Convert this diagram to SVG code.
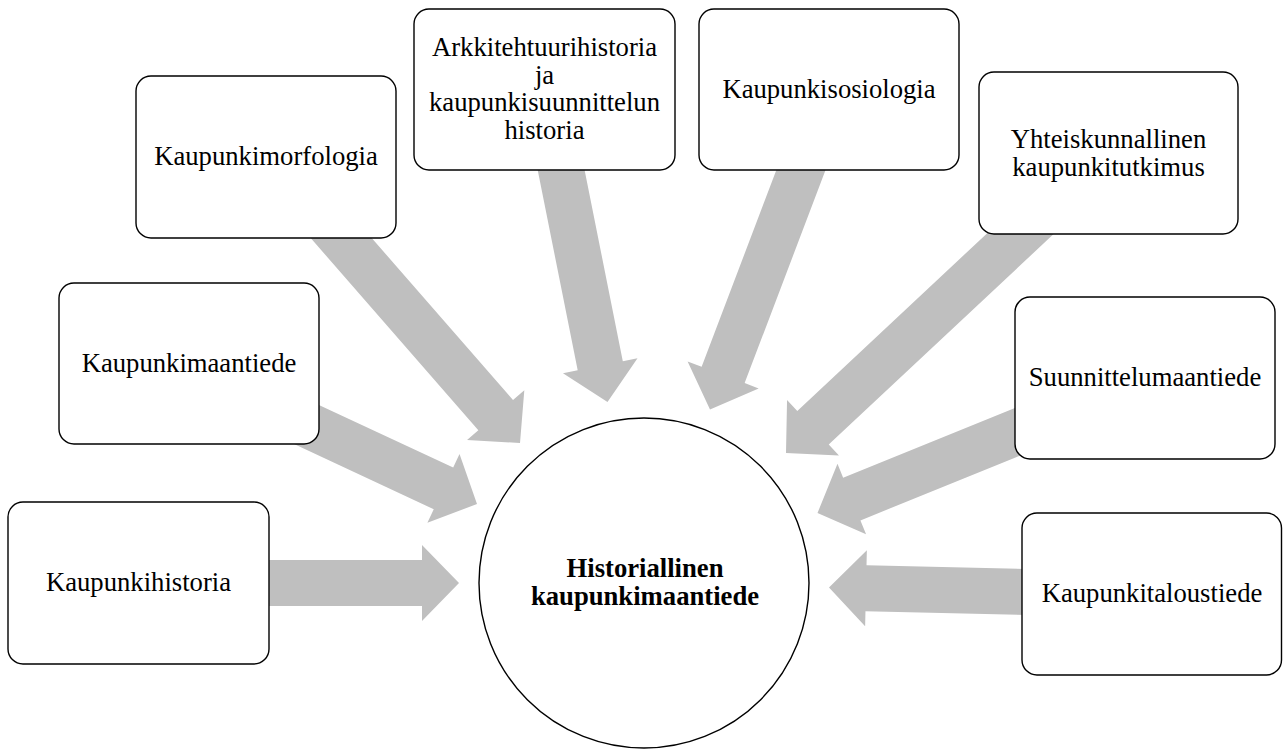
<svg xmlns="http://www.w3.org/2000/svg" width="1283" height="749" viewBox="0 0 1283 749">
<style>
  .arrow { fill: #bfbfbf; stroke: none; }
  .box { fill: #ffffff; stroke: #000000; stroke-width: 1.4; }
  .lbl { font-family: "Liberation Serif", "Times New Roman", serif; font-size: 26.67px; fill: #000000; text-anchor: middle; }
  .center { font-weight: bold; }
</style>
<rect x="0" y="0" width="1283" height="749" fill="#ffffff"/>
<g id="connectors">
  <polygon class="arrow" transform="translate(459,583) rotate(0)" points="-200,-23 -37,-23 -37,-38 0,0 -37,38 -37,23 -200,23"/>
  <polygon class="arrow" transform="translate(477,504) rotate(25)" points="-200,-23 -37,-23 -37,-38 0,0 -37,38 -37,23 -200,23"/>
  <polygon class="arrow" transform="translate(520,443) rotate(48.9)" points="-310,-23 -37,-23 -37,-38 0,0 -37,38 -37,23 -310,23"/>
  <polygon class="arrow" transform="translate(607.5,402) rotate(78.7)" points="-255,-23 -37,-23 -37,-38 0,0 -37,38 -37,23 -255,23"/>
  <polygon class="arrow" transform="translate(710,409.5) rotate(110.8)" points="-275,-23 -37,-23 -37,-38 0,0 -37,38 -37,23 -275,23"/>
  <polygon class="arrow" transform="translate(786,453) rotate(136.9)" points="-360,-23 -37,-23 -37,-38 0,0 -37,38 -37,23 -360,23"/>
  <polygon class="arrow" transform="translate(817.5,513) rotate(157.9)" points="-245,-23 -37,-23 -37,-38 0,0 -37,38 -37,23 -245,23"/>
  <polygon class="arrow" transform="translate(829,587.5) rotate(181.3)" points="-215,-23 -37,-23 -37,-38 0,0 -37,38 -37,23 -215,23"/>
</g>
<g id="center-node">
  <circle class="box" cx="644" cy="583" r="165"/>
  <text class="lbl center" x="645" y="577">Historiallinen</text>
  <text class="lbl center" x="645" y="605">kaupunkimaantiede</text>
</g>
<g id="node-kaupunkihistoria">
  <rect class="box" x="8" y="502" width="261" height="162" rx="15" ry="15"/>
  <text class="lbl" x="138.5" y="591">Kaupunkihistoria</text>
</g>
<g id="node-kaupunkimaantiede">
  <rect class="box" x="59" y="283" width="260" height="161" rx="15" ry="15"/>
  <text class="lbl" x="189" y="372">Kaupunkimaantiede</text>
</g>
<g id="node-kaupunkimorfologia">
  <rect class="box" x="136" y="76" width="260" height="162" rx="15" ry="15"/>
  <text class="lbl" x="266" y="165">Kaupunkimorfologia</text>
</g>
<g id="node-arkkitehtuurihistoria">
  <rect class="box" x="414" y="9" width="261" height="161" rx="15" ry="15"/>
  <text class="lbl" x="544.5" y="56">Arkkitehtuurihistoria</text>
  <text class="lbl" x="544.5" y="83.5">ja</text>
  <text class="lbl" x="544.5" y="111">kaupunkisuunnittelun</text>
  <text class="lbl" x="544.5" y="138.5">historia</text>
</g>
<g id="node-kaupunkisosiologia">
  <rect class="box" x="699" y="9" width="260" height="161" rx="15" ry="15"/>
  <text class="lbl" x="829" y="98">Kaupunkisosiologia</text>
</g>
<g id="node-yhteiskunnallinen">
  <rect class="box" x="979" y="72" width="259" height="162" rx="15" ry="15"/>
  <text class="lbl" x="1108.5" y="148">Yhteiskunnallinen</text>
  <text class="lbl" x="1108.5" y="176">kaupunkitutkimus</text>
</g>
<g id="node-suunnittelumaantiede">
  <rect class="box" x="1015" y="297" width="260" height="162" rx="15" ry="15"/>
  <text class="lbl" x="1145" y="386">Suunnittelumaantiede</text>
</g>
<g id="node-kaupunkitaloustiede">
  <rect class="box" x="1022" y="513" width="259.5" height="162" rx="15" ry="15"/>
  <text class="lbl" x="1152" y="602">Kaupunkitaloustiede</text>
</g>
</svg>
